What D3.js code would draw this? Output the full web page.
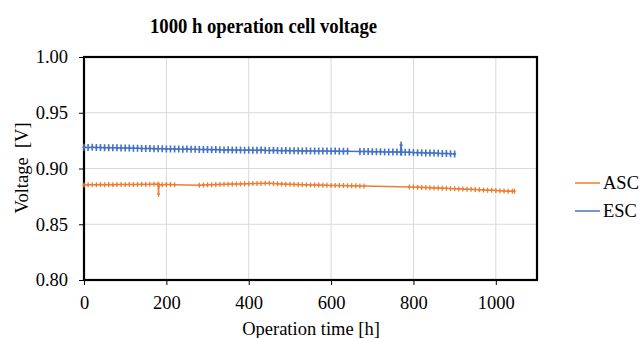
<!DOCTYPE html>
<html>
<head>
<meta charset="utf-8">
<title>1000 h operation cell voltage</title>
<script src="https://cdn.jsdelivr.net/npm/d3@7/dist/d3.min.js"></script>
<style>
  body { margin: 0; background: #fff; }
  text { font-family: "Liberation Serif", "Times New Roman", serif; fill: #000; }
</style>
</head>
<body>
<script>
// ASC: operation time [h] and voltage [V]
var ascTime = [0,10,20,30,40,50,60,70,80,90,100,110,120,130,140,150,160,170,180,181,182,190,200,210,220,
  280,290,300,310,320,330,340,350,360,370,380,390,400,410,420,430,440,450,460,470,480,490,500,
  510,520,530,540,550,560,570,580,590,600,610,620,630,640,650,660,670,680,
  790,800,810,820,830,840,850,860,870,880,890,900,910,920,930,940,950,960,970,980,990,1000,
  1010,1020,1030,1040,1045];
var ascVolt = [0.8853,0.8854,0.8855,0.8854,0.8856,0.8855,0.8856,0.8855,0.8856,0.8857,0.8856,0.8857,0.8856,0.8857,0.8858,0.8857,0.8858,0.8859,0.8860,0.8770,0.8853,0.8855,0.8857,0.8856,0.8855,
  0.8850,0.8852,0.8854,0.8855,0.8856,0.8857,0.8858,0.8859,0.8860,0.8861,0.8862,0.8863,0.8864,0.8865,0.8866,0.8866,0.8867,0.8867,0.8865,0.8863,0.8861,0.8859,0.8858,
  0.8857,0.8856,0.8855,0.8854,0.8853,0.8852,0.8851,0.8850,0.8849,0.8848,0.8848,0.8847,0.8847,0.8846,0.8845,0.8845,0.8844,0.8843,
  0.8835,0.8833,0.8832,0.8830,0.8829,0.8828,0.8826,0.8825,0.8823,0.8822,0.8820,0.8819,0.8817,0.8816,0.8814,0.8813,0.8811,0.8810,0.8808,0.8806,0.8805,0.8803,
  0.8801,0.8799,0.8797,0.8796,0.8795];

// ESC: operation time [h] and voltage [V]
var escTime = [0,10,20,30,40,50,60,70,80,90,100,110,120,130,140,150,160,170,180,190,200,210,220,230,240,250,
  260,270,280,290,300,310,320,330,340,350,360,370,380,390,400,410,420,430,440,450,460,470,480,490,500,
  510,520,530,540,550,560,570,580,590,600,610,620,630,640,
  670,680,690,700,710,720,730,740,750,760,769,770,771,780,790,800,810,820,830,840,850,860,870,880,890,900];
var escVolt = [0.9190,0.9189,0.9190,0.9188,0.9189,0.9187,0.9187,0.9186,0.9185,0.9184,0.9183,0.9183,0.9181,0.9182,0.9180,0.9179,0.9179,0.9178,0.9177,0.9177,0.9176,0.9175,0.9176,0.9174,0.9173,0.9174,
  0.9172,0.9173,0.9171,0.9170,0.9171,0.9169,0.9170,0.9168,0.9167,0.9168,0.9166,0.9167,0.9165,0.9164,0.9166,0.9164,0.9163,0.9165,0.9163,0.9162,0.9163,0.9161,0.9160,0.9161,0.9160,
  0.9159,0.9160,0.9158,0.9159,0.9157,0.9158,0.9157,0.9156,0.9157,0.9155,0.9156,0.9155,0.9154,0.9155,
  0.9153,0.9152,0.9153,0.9151,0.9150,0.9151,0.9149,0.9148,0.9149,0.9147,0.9147,0.9210,0.9146,0.9146,0.9145,0.9143,0.9142,0.9142,0.9140,0.9139,0.9138,0.9136,0.9135,0.9134,0.9132,0.9131];

var xTicks = [0, 200, 400, 600, 800, 1000];
var yTicks = [0.80, 0.85, 0.90, 0.95, 1.00];
var seriesNames = ["ASC", "ESC"];
var seriesColors = ["#ED7D31", "#4472C4"];

var width = 640, height = 338;
var plotL = 84, plotR = 537, plotT = 57, plotB = 280;
var fontSize = 18.5;
var serif = "'Liberation Serif', 'Times New Roman', serif";

var svg = d3.select("body").append("svg")
    .attr("width", width)
    .attr("height", height);

var x = d3.scaleLinear().domain([0, 1100]).range([plotL, plotR]);
var y = d3.scaleLinear().domain([0.80, 1.00]).range([plotB, plotT]);

// gridlines
svg.append("g").selectAll("line")
    .data(xTicks.slice(1))
    .enter().append("line")
    .attr("x1", d => x(d)).attr("x2", d => x(d))
    .attr("y1", plotT).attr("y2", plotB)
    .attr("stroke", "#d9d9d9").attr("stroke-width", 1);
svg.append("g").selectAll("line")
    .data(yTicks.slice(1, -1))
    .enter().append("line")
    .attr("x1", plotL).attr("x2", plotR)
    .attr("y1", d => y(d)).attr("y2", d => y(d))
    .attr("stroke", "#d9d9d9").attr("stroke-width", 1);

// axes
var xAxis = d3.axisBottom(x).tickValues(xTicks).tickFormat(d3.format("d"))
    .tickSize(5).tickSizeOuter(0).tickPadding(11);
var gx = svg.append("g").attr("transform", "translate(0," + plotB + ")").call(xAxis);
gx.select(".domain").remove();
gx.selectAll("line").attr("stroke", "#000");
gx.selectAll("text").style("font-family", serif).style("font-size", fontSize + "px");

var yAxis = d3.axisLeft(y).tickValues(yTicks).tickFormat(d3.format(".2f"))
    .tickSize(5).tickSizeOuter(0).tickPadding(11);
var gy = svg.append("g").attr("transform", "translate(" + plotL + ",0)").call(yAxis);
gy.select(".domain").remove();
gy.selectAll("line").attr("stroke", "#000");
gy.selectAll("text").style("font-family", serif).style("font-size", fontSize + "px");

// plot frame
svg.append("rect")
    .attr("x", plotL).attr("y", plotT)
    .attr("width", plotR - plotL).attr("height", plotB - plotT)
    .attr("fill", "none").attr("stroke", "#000").attr("stroke-width", 2.2);

// series
var series = [
  { name: seriesNames[0], color: seriesColors[0], t: ascTime, v: ascVolt, m: 2.5, w: 1.3 },
  { name: seriesNames[1], color: seriesColors[1], t: escTime, v: escVolt, m: 3.5, w: 1.6 }
];

var line = d3.line().x(d => x(d[0])).y(d => y(d[1]));

series.forEach(function (s) {
  var pts = s.t.map((t, i) => [t, s.v[i]]);
  var g = svg.append("g");
  g.append("path")
    .datum(pts)
    .attr("d", line)
    .attr("fill", "none")
    .attr("stroke", s.color)
    .attr("stroke-width", 1.5);
  g.selectAll("path.mk")
    .data(pts)
    .enter().append("path")
    .attr("class", "mk")
    .attr("d", d => "M" + (x(d[0]) - 1.5) + "," + y(d[1]) + "h3M" + x(d[0]) + "," + (y(d[1]) - s.m) + "v" + (2 * s.m))
    .attr("stroke", s.color)
    .attr("stroke-width", s.w)
    .attr("fill", "none");
});

// title (condensed like the original)
svg.append("text")
    .attr("x", 150).attr("y", 33)
    .attr("textLength", 227)
    .attr("lengthAdjust", "spacingAndGlyphs")
    .style("font-size", "22px").style("font-weight", "bold")
    .text("1000 h operation cell voltage");

// axis titles
svg.append("text")
    .attr("x", 311).attr("y", 335)
    .attr("text-anchor", "middle")
    .style("font-size", fontSize + "px")
    .text("Operation time [h]");

svg.append("text")
    .attr("transform", "translate(28,168) rotate(-90)")
    .attr("text-anchor", "middle")
    .style("font-size", fontSize + "px")
    .style("white-space", "pre")
    .text("Voltage  [V]");

// legend
var legend = svg.append("g").selectAll("g")
    .data(series)
    .enter().append("g")
    .attr("transform", (d, i) => "translate(575," + (183 + i * 28) + ")");
legend.append("line")
    .attr("x1", 0).attr("x2", 25).attr("y1", 0).attr("y2", 0)
    .attr("stroke", d => d.color).attr("stroke-width", 1.5);
legend.append("text")
    .attr("x", 28).attr("y", 6)
    .style("font-size", fontSize + "px")
    .text(d => d.name);
</script>
</body>
</html>
